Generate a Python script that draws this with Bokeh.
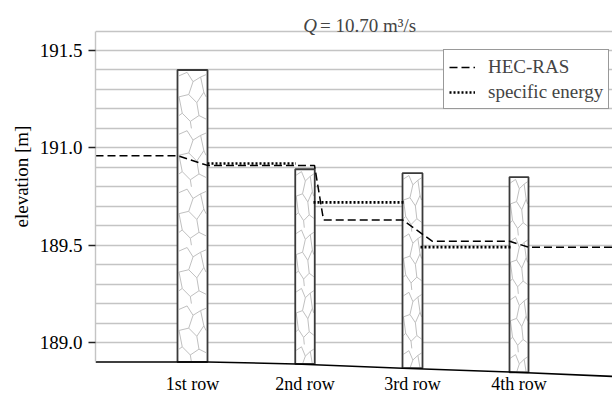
from bokeh.plotting import figure
from bokeh.models import Range1d, FixedTicker, Label, Legend, LegendItem, Title
from bokeh.embed import file_html
from bokeh.resources import INLINE

# ---------------- data ----------------
rows = ["1st row", "2nd row", "3rd row", "4th row"]
pillar_center = [1.94, 4.19, 6.34, 8.47]          # station [m]
pillar_width = [0.60, 0.39, 0.40, 0.38]
pillar_top = [191.40, 190.89, 190.87, 190.85]
pillar_bottom = [189.90, 189.89, 189.868, 189.847]

hec_x = [0.0, 1.64, 2.24, 4.38, 4.56, 6.14, 6.74, 8.28, 8.66, 10.34]
hec_y = [190.96, 190.96, 190.91, 190.91, 190.63, 190.63, 190.52, 190.52, 190.49, 190.49]

se_x0 = [2.24, 4.36, 6.50]
se_x1 = [4.01, 6.16, 8.30]
se_y = [190.92, 190.72, 190.49]

bed_x = [0.0, 2.24, 4.0, 6.14, 8.28, 10.34]
bed_y = [189.90, 189.90, 189.89, 189.868, 189.848, 189.826]

y_ticks = [190.0, 190.5, 191.0, 191.5]
y_tick_labels = ["189.0", "189.5", "191.0", "191.5"]
grid_levels = [190.0, 190.1, 190.2, 190.3, 190.4, 190.5, 190.6, 190.7, 190.8,
               190.9, 191.0, 191.1, 191.2, 191.3, 191.4, 191.5, 191.6]

FONT = "Liberation Serif"
FS = "19px"

# ---------------- stone texture motif (unit tile, decorative) ----------------
stone_motif = [
    [(0.0, 0.10), (0.30, 0.04), (0.52, 0.20), (0.36, 0.42), (0.0, 0.46)],
    [(0.52, 0.20), (0.80, 0.12), (1.0, 0.08)],
    [(0.80, 0.12), (0.92, 0.38), (0.66, 0.56), (0.36, 0.42)],
    [(0.92, 0.38), (1.0, 0.46)],
    [(0.66, 0.56), (0.74, 0.78), (0.42, 0.88), (0.12, 0.74), (0.0, 0.78)],
    [(0.12, 0.74), (0.0, 0.46)],
    [(0.74, 0.78), (1.0, 0.84)],
    [(0.42, 0.88), (0.46, 1.0)],
]
TILE_H = 0.3

# ---------------- figure ----------------
p = figure(width=612, height=394, output_backend="svg", toolbar_location=None,
           x_range=Range1d(0, 10.34), y_range=Range1d(189.733, 191.757),
           x_axis_location=None,
           min_border_left=95, min_border_top=0, min_border_right=0, min_border_bottom=0)
p.outline_line_color = None
p.background_fill_color = "white"
p.border_fill_color = "white"

p.xgrid.visible = False
p.ygrid.ticker = FixedTicker(ticks=grid_levels)
p.ygrid.grid_line_color = "#c4c4c4"
p.ygrid.grid_line_width = 1.4

yax = p.yaxis[0]
yax.ticker = FixedTicker(ticks=y_ticks)
yax.major_label_overrides = dict(zip(y_ticks, y_tick_labels))
yax.bounds = (189.9, 191.6)
yax.axis_line_color = "#c4c4c4"
yax.axis_line_width = 1.4
yax.major_tick_out = 7
yax.major_tick_in = 0
yax.major_tick_line_color = "#222222"
yax.major_tick_line_width = 1.3
yax.minor_tick_line_color = None
yax.major_label_standoff = 6
yax.major_label_text_font = FONT
yax.major_label_text_font_size = FS
yax.major_label_text_color = "black"

# y-axis title (vertical title panel on the left)
p.add_layout(Title(text="elevation [m]", align="left", offset=167,
                   text_font=FONT, text_font_size=FS, text_font_style="normal",
                   text_color="black"), "left")

# pillars: white body, stone texture, dark outline
lefts = [c - w / 2 for c, w in zip(pillar_center, pillar_width)]
rights = [c + w / 2 for c, w in zip(pillar_center, pillar_width)]
p.quad(left=lefts, right=rights, top=pillar_top, bottom=pillar_bottom,
       fill_color="white", line_color=None)

tex_xs, tex_ys = [], []
for l, r, t, b in zip(lefts, rights, pillar_top, pillar_bottom):
    w = r - l
    y0 = t
    while y0 > b:
        for path in stone_motif:
            tex_xs.append([l + 0.05 * w + u * 0.90 * w for u, v in path])
            tex_ys.append([max(b, y0 - v * TILE_H) for u, v in path])
        y0 -= TILE_H
p.multi_line(tex_xs, tex_ys, line_color="#c0c0c0", line_width=1)

p.quad(left=lefts, right=rights, top=pillar_top, bottom=pillar_bottom,
       fill_color=None, line_color="#3a3a3a", line_width=1.8)

# bed
p.line(bed_x, bed_y, line_color="black", line_width=1.5)

# lines
r_hec = p.line(hec_x, hec_y, line_color="black", line_width=1.5, line_dash="8 4")
r_se = p.segment(x0=se_x0, x1=se_x1, y0=se_y, y1=se_y, line_color="black",
                 line_width=2.6, line_dash="2 2")

# category labels under the pillars
p.text(x=pillar_center, y=[189.789] * len(rows), text=rows,
       text_font={"value": FONT}, text_font_size={"value": "18px"},
       text_align="center", text_baseline="middle", text_color="black")

legend = Legend(items=[LegendItem(label="HEC-RAS", renderers=[r_hec]),
                       LegendItem(label="specific energy", renderers=[r_se])],
                location=(348, 285), padding=5, spacing=2, margin=0,
                label_height=23, glyph_height=20, glyph_width=26, label_standoff=13,
                label_text_font=FONT, label_text_font_size=FS,
                border_line_color="#333333", border_line_width=1.5,
                background_fill_color="white", background_fill_alpha=1.0)
p.add_layout(legend)

# title pieces
p.add_layout(Label(x=4.154, y=191.627, text="Q", text_font=FONT, text_font_size=FS,
                   text_font_style="italic", text_baseline="alphabetic"))
p.add_layout(Label(x=4.49, y=191.627, text="= 10.70 m³/s", text_font=FONT,
                   text_font_size=FS, text_baseline="alphabetic"))

open("out.html", "w").write(file_html(p, INLINE))
